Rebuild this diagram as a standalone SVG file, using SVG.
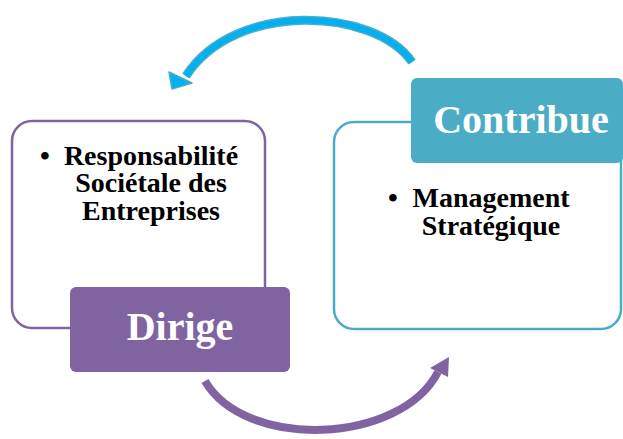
<svg xmlns="http://www.w3.org/2000/svg" width="623" height="439" viewBox="0 0 623 439">
<style>
.t{font-family:"Liberation Serif","Times New Roman",serif;font-weight:bold;fill:#000;font-size:28px}
.h{font-family:"Liberation Serif","Times New Roman",serif;font-weight:bold;fill:#fff;font-size:40px}
</style>
<rect width="623" height="439" fill="#fff"/>
<g id="connectors">
<g id="arrow-top">
<path d="M412,62 C375,8 235,0 186,76" fill="none" stroke="#4BACC6" stroke-width="9"/>
<path d="M412,62 C375,8 235,0 186,76" fill="none" stroke="#00B0F0" stroke-width="6"/>
<polygon points="172,89 169,72 192,83" fill="#00B0F0" stroke="#4BACC6" stroke-width="1.5" stroke-linejoin="round"/>
</g>
<g id="arrow-bottom">
<path d="M205,381 C245,450 400,445 438,372" fill="none" stroke="#8064A2" stroke-width="8"/>
<polygon points="449,357 430,368 448,377" fill="#8064A2"/>
</g>
</g>
<g id="node-rse">
<rect x="12" y="121" width="253" height="207" rx="20" fill="#fff" stroke="#8064A2" stroke-width="2.5"/>
<text class="t" x="40" y="165">•</text>
<text class="t" text-anchor="middle"><tspan x="151" y="165">Responsabilité</tspan><tspan x="151" y="192">Sociétale des</tspan><tspan x="151" y="220">Entreprises</tspan></text>
</g>
<g id="node-dirige">
<rect x="70" y="287" width="220" height="85" rx="6" fill="#8064A2"/>
<text class="h" x="180" y="340" text-anchor="middle">Dirige</text>
</g>
<g id="node-management">
<rect x="334" y="122" width="287" height="207" rx="20" fill="#fff" stroke="#4BACC6" stroke-width="2.5"/>
<text class="t" x="388" y="207">•</text>
<text class="t" text-anchor="middle"><tspan x="491" y="207">Management</tspan><tspan x="491" y="235">Stratégique</tspan></text>
</g>
<g id="node-contribue">
<rect x="411" y="78" width="212" height="85" rx="6" fill="#4BACC6"/>
<text class="h" x="521" y="133" text-anchor="middle">Contribue</text>
</g>
</svg>
